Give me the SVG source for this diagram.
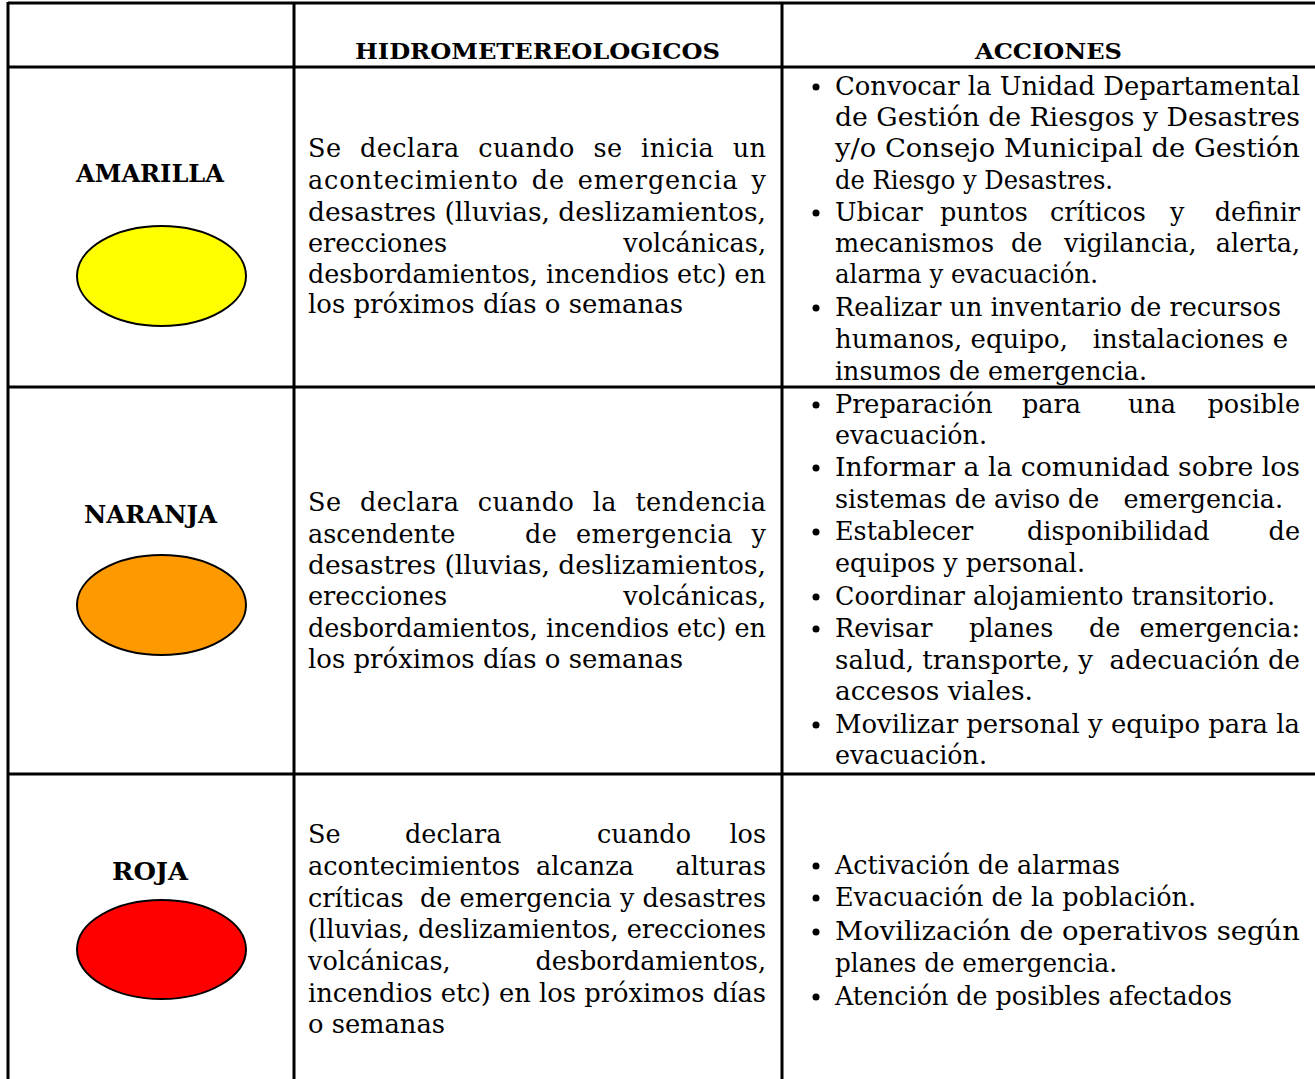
<svg xmlns="http://www.w3.org/2000/svg" width="1315" height="1079" viewBox="0 0 1315 1079">
<style>
.t{font-family:"DejaVu Serif","Liberation Serif",serif;font-size:25.5px;fill:#000}
.b{font-family:"DejaVu Serif","Liberation Serif",serif;font-size:24px;font-weight:bold;fill:#000}
.h{font-family:"DejaVu Serif","Liberation Serif",serif;font-size:23px;font-weight:bold;fill:#000}
.ln{stroke:#000;stroke-width:3;fill:none}
.el{stroke:#000;stroke-width:2}
.e{text-anchor:end}
</style>
<rect x="0" y="0" width="1315" height="1079" fill="#fff"/>
<g id="grid">
<line class="ln" x1="8" y1="3" x2="1315" y2="3"/>
<line class="ln" x1="8" y1="67" x2="1315" y2="67"/>
<line class="ln" x1="8" y1="387" x2="1315" y2="387"/>
<line class="ln" x1="8" y1="774" x2="1315" y2="774"/>
<line class="ln" x1="8" y1="2" x2="8" y2="1079"/>
<line class="ln" x1="294" y1="2" x2="294" y2="1079"/>
<line class="ln" x1="782" y1="2" x2="782" y2="1079"/>
</g>
<g id="header">
<text class="h" x="355" y="59" textLength="365" lengthAdjust="spacingAndGlyphs">HIDROMETEREOLOGICOS</text>
<text class="h" x="975" y="59" textLength="147" lengthAdjust="spacingAndGlyphs">ACCIONES</text>
</g>
<g id="amarilla">
<text class="b" x="76" y="182" textLength="148" lengthAdjust="spacingAndGlyphs">AMARILLA</text>
<ellipse class="el" cx="161.5" cy="276" rx="84.5" ry="50" fill="#FFFF00"/>
<text class="t" x="308" y="157" word-spacing="10" textLength="458" lengthAdjust="spacing">Se declara cuando se inicia un</text>
<text class="t" x="308" y="189" word-spacing="4" textLength="458" lengthAdjust="spacing">acontecimiento de emergencia y</text>
<text class="t" x="308" y="221" textLength="458" lengthAdjust="spacingAndGlyphs">desastres (lluvias, deslizamientos,</text>
<text class="t" x="308" y="252">erecciones</text><text class="t e" x="766" y="252">volcánicas,</text>
<text class="t" x="308" y="283" textLength="458" lengthAdjust="spacingAndGlyphs">desbordamientos, incendios etc) en</text>
<text class="t" x="308" y="313" textLength="375" lengthAdjust="spacingAndGlyphs">los próximos días o semanas</text>
<circle cx="816" cy="87" r="3.5"/>
<text class="t" x="835" y="95" textLength="465" lengthAdjust="spacingAndGlyphs">Convocar la Unidad Departamental</text>
<text class="t" x="835" y="126" textLength="465" lengthAdjust="spacingAndGlyphs">de Gestión de Riesgos y Desastres</text>
<text class="t" x="835" y="157" textLength="465" lengthAdjust="spacingAndGlyphs">y/o Consejo Municipal de Gestión</text>
<text class="t" x="835" y="189" textLength="278" lengthAdjust="spacingAndGlyphs">de Riesgo y Desastres.</text>
<circle cx="816" cy="213" r="3.5"/>
<text class="t" x="835" y="221">Ubicar</text><text class="t" x="940" y="221">puntos</text><text class="t" x="1050" y="221">críticos</text><text class="t" x="1170" y="221">y</text><text class="t e" x="1300" y="221">definir</text>
<text class="t" x="835" y="252">mecanismos</text><text class="t" x="1011" y="252">de</text><text class="t" x="1064" y="252">vigilancia,</text><text class="t e" x="1300" y="252">alerta,</text>
<text class="t" x="835" y="283" textLength="263" lengthAdjust="spacingAndGlyphs">alarma y evacuación.</text>
<circle cx="816" cy="308" r="3.5"/>
<text class="t" x="835" y="316" textLength="446" lengthAdjust="spacingAndGlyphs">Realizar un inventario de recursos</text>
<text class="t" x="835" y="348" textLength="453" lengthAdjust="spacingAndGlyphs" xml:space="preserve">humanos, equipo,   instalaciones e</text>
<text class="t" x="835" y="380" textLength="312" lengthAdjust="spacingAndGlyphs">insumos de emergencia.</text>
</g>
<g id="naranja">
<text class="b" x="84" y="523" textLength="133" lengthAdjust="spacingAndGlyphs">NARANJA</text>
<ellipse class="el" cx="161.5" cy="605" rx="84.5" ry="50" fill="#FF9900"/>
<text class="t" x="308" y="511" word-spacing="10" textLength="458" lengthAdjust="spacing">Se declara cuando la tendencia</text>
<text class="t" x="308" y="543">ascendente</text><text class="t e" x="766" y="543" word-spacing="10" textLength="241" lengthAdjust="spacing">de emergencia y</text>
<text class="t" x="308" y="574" textLength="458" lengthAdjust="spacingAndGlyphs">desastres (lluvias, deslizamientos,</text>
<text class="t" x="308" y="605">erecciones</text><text class="t e" x="766" y="605">volcánicas,</text>
<text class="t" x="308" y="637" textLength="458" lengthAdjust="spacingAndGlyphs">desbordamientos, incendios etc) en</text>
<text class="t" x="308" y="668" textLength="375" lengthAdjust="spacingAndGlyphs">los próximos días o semanas</text>
<circle cx="816" cy="405" r="3.5"/>
<text class="t" x="835" y="413">Preparación</text><text class="t" x="1022" y="413">para</text><text class="t" x="1128" y="413">una</text><text class="t e" x="1300" y="413">posible</text>
<text class="t" x="835" y="444" textLength="152" lengthAdjust="spacingAndGlyphs">evacuación.</text>
<circle cx="816" cy="468" r="3.5"/>
<text class="t" x="835" y="476" textLength="465" lengthAdjust="spacingAndGlyphs">Informar a la comunidad sobre los</text>
<text class="t" x="835" y="508" textLength="448" lengthAdjust="spacingAndGlyphs" xml:space="preserve">sistemas de aviso de   emergencia.</text>
<circle cx="816" cy="532" r="3.5"/>
<text class="t" x="835" y="540">Establecer</text><text class="t" x="1027" y="540">disponibilidad</text><text class="t e" x="1300" y="540">de</text>
<text class="t" x="835" y="572" textLength="250" lengthAdjust="spacingAndGlyphs">equipos y personal.</text>
<circle cx="816" cy="597" r="3.5"/>
<text class="t" x="835" y="605" textLength="440" lengthAdjust="spacingAndGlyphs">Coordinar alojamiento transitorio.</text>
<circle cx="816" cy="629" r="3.5"/>
<text class="t" x="835" y="637">Revisar</text><text class="t" x="969" y="637">planes</text><text class="t" x="1089" y="637">de</text><text class="t e" x="1300" y="637">emergencia:</text>
<text class="t" x="835" y="669" textLength="465" lengthAdjust="spacingAndGlyphs" xml:space="preserve">salud, transporte, y  adecuación de</text>
<text class="t" x="835" y="700" textLength="198" lengthAdjust="spacingAndGlyphs">accesos viales.</text>
<circle cx="816" cy="725" r="3.5"/>
<text class="t" x="835" y="733" textLength="465" lengthAdjust="spacingAndGlyphs">Movilizar personal y equipo para la</text>
<text class="t" x="835" y="764" textLength="152" lengthAdjust="spacingAndGlyphs">evacuación.</text>
</g>
<g id="roja">
<text class="b" x="112" y="880" textLength="76" lengthAdjust="spacingAndGlyphs">ROJA</text>
<ellipse class="el" cx="161.5" cy="949.5" rx="84.5" ry="49.5" fill="#FF0000"/>
<text class="t" x="308" y="843">Se</text><text class="t" x="405" y="843">declara</text><text class="t" x="597" y="843">cuando</text><text class="t e" x="766" y="843">los</text>
<text class="t" x="308" y="875" textLength="212" lengthAdjust="spacingAndGlyphs">acontecimientos</text><text class="t" x="536" y="875">alcanza</text><text class="t e" x="766" y="875">alturas</text>
<text class="t" x="308" y="907" textLength="458" lengthAdjust="spacingAndGlyphs" xml:space="preserve">críticas  de emergencia y desastres</text>
<text class="t" x="308" y="938" textLength="458" lengthAdjust="spacingAndGlyphs">(lluvias, deslizamientos, erecciones</text>
<text class="t" x="308" y="970">volcánicas,</text><text class="t e" x="766" y="970">desbordamientos,</text>
<text class="t" x="308" y="1002" textLength="458" lengthAdjust="spacingAndGlyphs">incendios etc) en los próximos días</text>
<text class="t" x="308" y="1033" textLength="137" lengthAdjust="spacingAndGlyphs">o semanas</text>
<circle cx="816" cy="866" r="3.5"/>
<text class="t" x="835" y="874" textLength="285" lengthAdjust="spacingAndGlyphs">Activación de alarmas</text>
<circle cx="816" cy="898" r="3.5"/>
<text class="t" x="835" y="906" textLength="361" lengthAdjust="spacingAndGlyphs">Evacuación de la población.</text>
<circle cx="816" cy="932" r="3.5"/>
<text class="t" x="835" y="940" textLength="465" lengthAdjust="spacingAndGlyphs">Movilización de operativos según</text>
<text class="t" x="835" y="972" textLength="282" lengthAdjust="spacingAndGlyphs">planes de emergencia.</text>
<circle cx="816" cy="997" r="3.5"/>
<text class="t" x="835" y="1005" textLength="397" lengthAdjust="spacingAndGlyphs">Atención de posibles afectados</text>
</g>
</svg>
